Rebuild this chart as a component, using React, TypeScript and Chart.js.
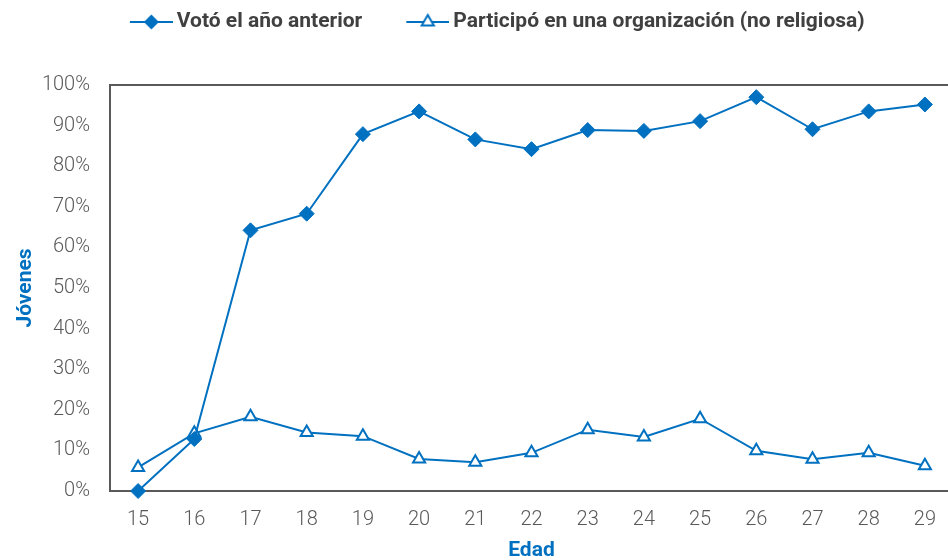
import React, { useEffect, useRef } from 'react';
import { Chart, registerables } from 'chart.js';

Chart.register(...registerables);

const ages = ['15', '16', '17', '18', '19', '20', '21', '22', '23', '24', '25', '26', '27', '28', '29'];
const votedPct = [0, 12.8, 64.2, 68.3, 87.9, 93.5, 86.6, 84.2, 88.9, 88.7, 91.1, 97.0, 89.1, 93.5, 95.2];
const orgPct = [5.8, 14.2, 18.3, 14.4, 13.5, 7.9, 7.1, 9.4, 15.1, 13.3, 17.8, 9.9, 7.8, 9.4, 6.2];
const seriesLabels = ['Votó el año anterior', 'Participó en una organización (no religiosa)'];
const yMin = 0;
const yMax = 100;
const yStep = 10;
const xTitle = 'Edad';
const yTitle = 'Jóvenes';

const BLUE = '#0070C0';
const AXIS = '#595959';
const FONT = 'Roboto';

function makeLegendImage(kind: 'diamond' | 'triangle'): HTMLCanvasElement {
  const c = document.createElement('canvas');
  c.width = 82;
  c.height = 20;
  const ctx = c.getContext('2d')!;
  ctx.strokeStyle = BLUE;
  ctx.lineWidth = 2;
  ctx.beginPath();
  ctx.moveTo(39, 10);
  ctx.lineTo(82, 10);
  ctx.stroke();
  const cx = 60.5;
  const cy = 10;
  const r = 7;
  ctx.beginPath();
  if (kind === 'diamond') {
    ctx.moveTo(cx - r - 0.5, cy);
    ctx.lineTo(cx, cy - r - 0.5);
    ctx.lineTo(cx + r + 0.5, cy);
    ctx.lineTo(cx, cy + r + 0.5);
    ctx.closePath();
    ctx.fillStyle = BLUE;
    ctx.fill();
  } else {
    const s = Math.sin(Math.PI / 3) * r;
    ctx.moveTo(cx, cy - r);
    ctx.lineTo(cx + s, cy + r / 2);
    ctx.lineTo(cx - s, cy + r / 2);
    ctx.closePath();
    ctx.fillStyle = '#ffffff';
    ctx.fill();
    ctx.lineWidth = 2;
    ctx.stroke();
  }
  return c;
}

export default function App() {
  const canvasRef = useRef<HTMLCanvasElement | null>(null);

  useEffect(() => {
    if (!canvasRef.current) return;
    const imgs = [makeLegendImage('diamond'), makeLegendImage('triangle')];
    const chart = new Chart(canvasRef.current, {
      type: 'line',
      data: {
        labels: ages,
        datasets: [
          {
            label: seriesLabels[0],
            data: votedPct,
            borderColor: BLUE,
            backgroundColor: BLUE,
            borderWidth: 2,
            pointStyle: 'rectRot',
            pointRadius: 7.5,
            pointBorderWidth: 1,
            pointBackgroundColor: BLUE,
            pointBorderColor: BLUE,
            tension: 0,
            clip: false as any,
            xAxisID: 'x',
            yAxisID: 'y',
          },
          {
            label: seriesLabels[1],
            data: orgPct,
            borderColor: BLUE,
            backgroundColor: '#ffffff',
            borderWidth: 2,
            pointStyle: 'triangle',
            pointRadius: 7,
            pointBorderWidth: 2,
            pointBackgroundColor: '#ffffff',
            pointBorderColor: BLUE,
            tension: 0,
            clip: false as any,
            xAxisID: 'x',
            yAxisID: 'y',
          },
        ],
      },
      options: {
        animation: false,
        responsive: true,
        maintainAspectRatio: false,
        events: [],
        layout: { padding: 0 },
        plugins: {
          tooltip: { enabled: false },
          legend: {
            position: 'top',
            align: 'center',
            labels: {
              usePointStyle: true,
              pointStyleWidth: 69,
              padding: 11.5,
              color: '#404040',
              font: { family: FONT, size: 21, weight: 'bold' },
              generateLabels: () =>
                seriesLabels.map((t, i) => ({
                  text: t,
                  pointStyle: imgs[i],
                  fillStyle: BLUE,
                  strokeStyle: BLUE,
                  lineWidth: 0,
                  hidden: false,
                  datasetIndex: i,
                  fontColor: '#404040',
                })) as any,
            },
          },
        },
        scales: {
          x: {
            type: 'category',
            position: 'bottom',
            offset: true,
            grid: { display: false, drawTicks: false },
            border: { display: true, color: AXIS, width: 2 },
            ticks: { color: AXIS, padding: 17, font: { family: FONT, size: 20, weight: 300 as any }, maxRotation: 0 },
            title: {
              display: true,
              text: xTitle,
              color: BLUE,
              font: { family: FONT, size: 21, weight: 'bold' },
              padding: { top: 0, bottom: 0 },
            },
            afterFit: (s: any) => {
              s.height = 72;
            },
          },
          xTop: {
            type: 'category',
            labels: ages,
            position: 'top',
            offset: true,
            grid: { display: false, drawTicks: false },
            border: { display: true, color: AXIS, width: 2 },
            ticks: { display: false },
            afterFit: (s: any) => {
              s.height = 42.5;
            },
          },
          y: {
            type: 'linear',
            position: 'left',
            min: yMin,
            max: yMax,
            grid: { display: false, drawTicks: false },
            border: { display: true, color: AXIS, width: 2 },
            ticks: {
              stepSize: yStep,
              color: AXIS,
              padding: 20,
              font: { family: FONT, size: 20, weight: 300 as any },
              callback: (v: any) => `${v}%`,
            },
            title: {
              display: true,
              text: yTitle,
              color: BLUE,
              font: { family: FONT, size: 21, weight: 'bold' },
              padding: { top: 13.4, bottom: 0 },
            },
            afterFit: (s: any) => {
              s.width = 110;
            },
          },
          yRight: {
            type: 'linear',
            position: 'right',
            grid: { display: false, drawTicks: false },
            border: { display: false },
            ticks: { display: false },
            afterFit: (s: any) => {
              s.width = 6;
            },
          },
        },
      },
    });
    return () => chart.destroy();
  }, []);

  return (
    <div style={{ position: 'fixed', left: 0, top: 0, width: 962, height: 563, background: '#ffffff' }}>
      <canvas ref={canvasRef} />
    </div>
  );
}
